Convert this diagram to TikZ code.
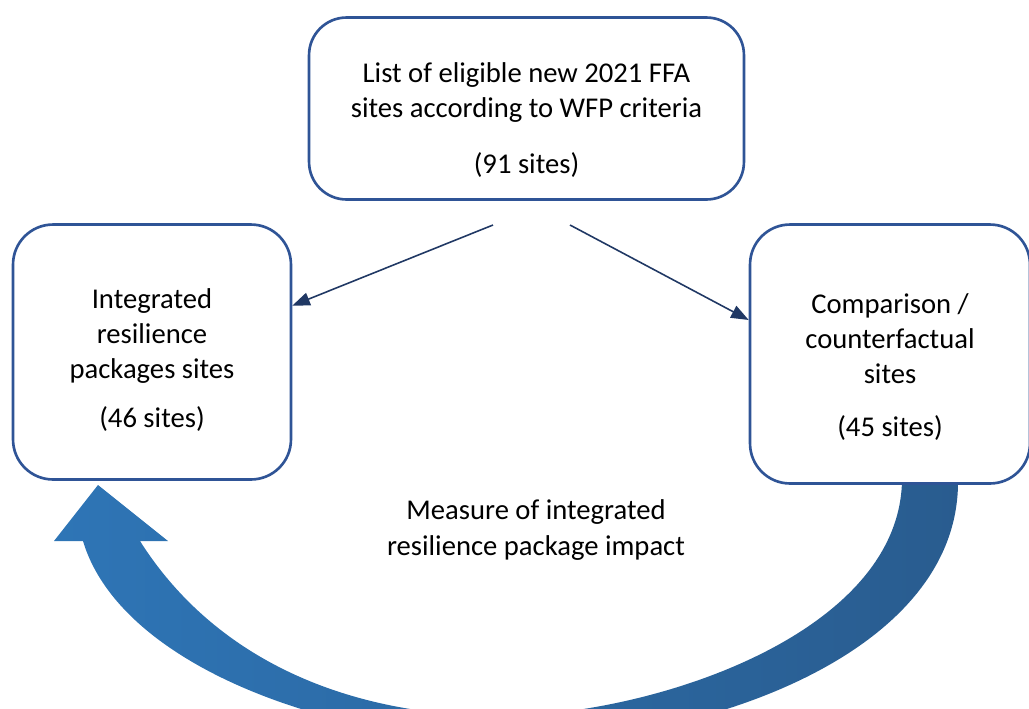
\documentclass[tikz,border=0pt]{standalone}
\usepackage{fontspec}
\setmainfont{Carlito}
\usetikzlibrary{arrows.meta,calc}
\definecolor{boxblue}{RGB}{47,84,150}
\definecolor{linkblue}{RGB}{32,56,100}
\definecolor{bandlight}{RGB}{46,117,182}
\definecolor{banddark}{RGB}{41,92,143}

\begin{document}
\begin{tikzpicture}[x=0.02cm,y=-0.02cm,
box/.style={draw=boxblue,line width=1.5pt,rectangle,
rounded corners=0.8cm,fill=white,inner sep=0pt},
txt/.style={align=center,inner sep=0pt,
font=\fontsize{16.3pt}{20pt}\selectfont},
link/.style={draw=linkblue,line width=0.9pt,
-{Triangle[length=10pt,width=7.5pt]}}]
\useasboundingbox (0,0) rectangle (1029,708);

% impact arrow, drawn first so the boxes sit on top of it
\shade[left color=bandlight,right color=banddark]
(958,480) -- (902,480)
.. controls (900,635) and (650,716) .. (500,716)
.. controls (350,716) and (216,661) .. (140,541)
-- (168,541) -- (98,485) -- (54,541) -- (83,541)
.. controls (120,665) and (330,742) .. (520,742)
.. controls (700,742) and (960,655) .. (958,480) -- cycle;

\node[box,minimum width=8.7cm,minimum height=3.64cm,
rounded corners=0.75cm](list) at (526.5,108.5){};

\node[box,minimum width=5.56cm,minimum height=5.1cm](integ) at (152,352){};

\node[box,minimum width=5.6cm,minimum height=5.18cm](comp) at (890,354){};

\node[txt](listtxt) at (526.5,120){List of eligible new 2021 FFA\\
sites according to WFP criteria\\[12pt](91 sites)};
\node[txt](integtxt) at (152,360){Integrated\\resilience\\
packages sites\\[8pt](46 sites)};
\node[txt](comptxt) at (890,367){Comparison /\\counterfactual\\
sites\\[10pt](45 sites)};
\node[txt](impact) at (536,530){Measure of integrated\\
resilience package impact};

\coordinate (lstart) at (493,225);
\coordinate (rstart) at (570,225);

\draw[link] (lstart) -- ($(integ.north east)!0.32!(integ.south east)$);
\draw[link] (rstart) -- ($(comp.north west)!0.37!(comp.south west)$);
\end{tikzpicture}
\end{document}
